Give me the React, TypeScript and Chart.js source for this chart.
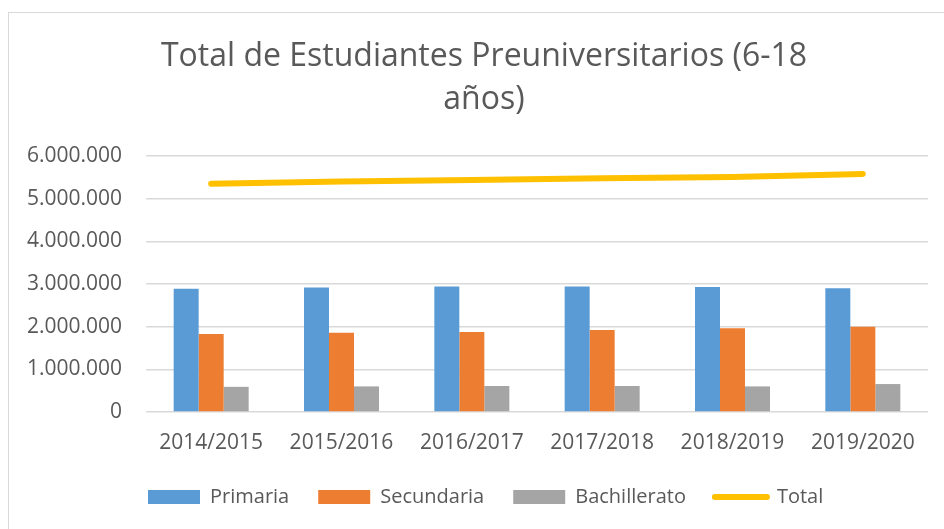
import React, { useEffect, useRef } from "react";
import { Chart, registerables } from "chart.js";

Chart.register(...registerables);

const categories = ["2014/2015", "2015/2016", "2016/2017", "2017/2018", "2018/2019", "2019/2020"];
const primaria = [2890000, 2920000, 2940000, 2940000, 2930000, 2900000];
const secundaria = [1830000, 1860000, 1875000, 1920000, 1960000, 2000000];
const bachillerato = [590000, 600000, 610000, 610000, 600000, 655000];
const total = [5350000, 5400000, 5440000, 5480000, 5510000, 5580000];
const titleLines = ["Total de Estudiantes Preuniversitarios (6-18", "años)"];
const yMax = 6000000;
const yStep = 1000000;

const TEXT = "#595959";
const GRID = "#d9d9d9";

const fmt = (v: number) => String(Math.round(v)).replace(/\B(?=(\d{3})+(?!\d))/g, ".");

const shiftPlugin = {
  id: "shiftBoxes",
  afterLayout(chart: any) {
    const t = chart.titleBlock;
    if (t) {
      t.left += 20;
      t.right += 20;
    }
    const l = chart.legend;
    if (l) {
      l.left += 119;
      l.right += 119;
    }
  },
};

export default function App() {
  const ref = useRef<HTMLCanvasElement | null>(null);
  useEffect(() => {
    if (!ref.current) return;
    const chart = new Chart(ref.current, {
      type: "bar",
      data: {
        labels: categories,
        datasets: [
          { type: "bar", label: "Primaria", data: primaria, backgroundColor: "#5B9BD5", borderWidth: 0 },
          { type: "bar", label: "Secundaria", data: secundaria, backgroundColor: "#ED7D31", borderWidth: 0 },
          { type: "bar", label: "Bachillerato", data: bachillerato, backgroundColor: "#A5A5A5", borderWidth: 0 },
          {
            type: "line",
            label: "Total",
            data: total,
            borderColor: "#FFC000",
            backgroundColor: "#FFC000",
            borderWidth: 6,
            borderCapStyle: "round",
            borderJoinStyle: "round",
            pointRadius: 0,
            tension: 0,
          } as any,
        ],
      },
      options: {
        responsive: false,
        animation: false,
        datasets: { bar: { categoryPercentage: 0.5755, barPercentage: 1 } } as any,
        layout: { padding: { left: 0, right: 16, top: 0, bottom: 12 } },
        plugins: {
          tooltip: { enabled: false },
          title: {
            display: true,
            text: titleLines,
            color: TEXT,
            font: { family: "'Open Sans'", size: 32, weight: "normal", lineHeight: 1.35 },
            padding: { top: 35, bottom: 34.6 },
          },
          legend: {
            display: true,
            position: "bottom",
            align: "start",
            labels: {
              color: TEXT,
              font: { family: "'Open Sans'", size: 20 },
              padding: 29,
              boxWidth: 52,
              boxHeight: 14,
              usePointStyle: true,
              pointStyleWidth: 52,
              generateLabels: (ch: any) => {
                const items = Chart.defaults.plugins.legend.labels.generateLabels(ch);
                return items.map((it: any, i: number) =>
                  i === 3
                    ? { ...it, pointStyle: "line", lineWidth: 6, strokeStyle: "#FFC000", lineCap: "round" }
                    : { ...it, pointStyle: "rect", lineWidth: 0 }
                );
              },
            },
          },
        },
        scales: {
          x: {
            grid: { display: false, drawTicks: false },
            border: { display: false },
            ticks: { color: TEXT, font: { family: "'Open Sans'", size: 21 }, padding: 18, maxRotation: 0 },
            afterFit: (s: any) => {
              s.height = 46;
            },
          },
          y: {
            min: 0,
            max: yMax,
            grid: { color: GRID, lineWidth: 1.5, drawTicks: false },
            border: { display: false },
            ticks: {
              stepSize: yStep,
              color: TEXT,
              font: { family: "'Open Sans'", size: 21 },
              padding: 24,
              callback: (v: any) => fmt(Number(v)),
            },
            afterFit: (s: any) => {
              s.width = 146;
            },
          },
        },
      },
      plugins: [shiftPlugin],
    } as any);
    return () => chart.destroy();
  }, []);

  return (
    <div
      style={{
        position: "fixed",
        left: 0,
        top: 0,
        width: 944,
        height: 529,
        overflow: "hidden",
        background: "#ffffff",
      }}
    >
      <div
        style={{
          position: "absolute",
          left: 8,
          top: 12,
          width: 1200,
          height: 1200,
          borderLeft: "1.5px solid #d9d9d9",
          borderTop: "1.5px solid #d9d9d9",
        }}
      />
      <canvas
        ref={ref}
        width={944}
        height={529}
        style={{ position: "absolute", left: 0, top: 0, width: 944, height: 529 }}
      />
    </div>
  );
}
